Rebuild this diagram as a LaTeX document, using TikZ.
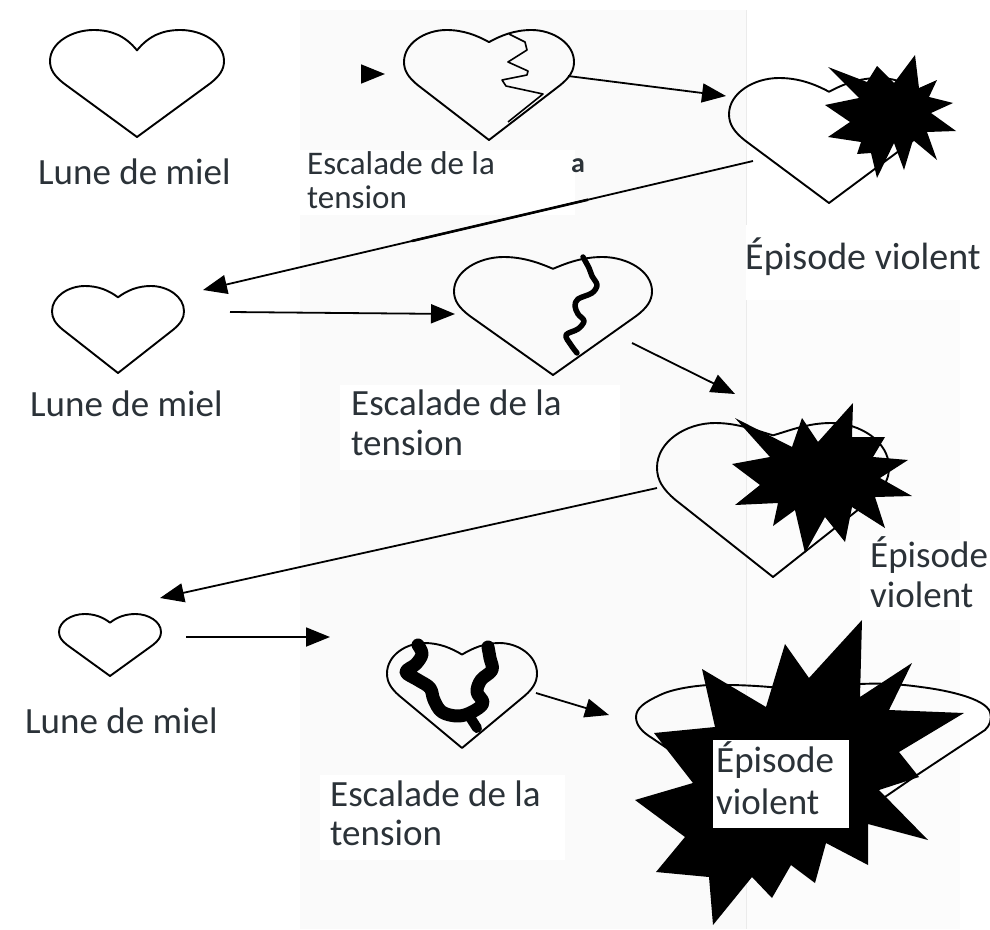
\documentclass[tikz,border=0pt]{standalone}
\usepackage{fontspec}
\setmainfont{Carlito}
\usetikzlibrary{arrows.meta,calc}
\definecolor{ink}{HTML}{2B3238}
\newcommand{\hrt}[5]{% cx, top, halfwidth, height, notch
  \begin{scope}[shift={(#1,#2)},xscale=#3,yscale=#4]
    \draw[heartline] (0,1) -- (-.84,.5) .. controls (-.95,.43) and (-1,.37) .. (-1,.29)
      .. controls (-1,.12) and (-.75,0) .. (-.5,0) .. controls (-.3,0) and (-.14,.05) .. (0,#5)
      .. controls (.14,.05) and (.3,0) .. (.5,0) .. controls (.75,0) and (1,.12) .. (1,.29)
      .. controls (1,.37) and (.95,.43) .. (.84,.5) -- cycle;
  \end{scope}}
\tikzset{
  heartline/.style={line width=1.9pt,black,line join=round},
  crackthin/.style={line width=1.6pt,black,line join=round},
  crackthick/.style={black,line join=round,line cap=round},
  burst/.style={fill=black,draw=none},
  link/.style={line width=1.8pt,black,-{Triangle[length=24pt,width=19pt]}},
  lbig/.style={anchor=base west,inner sep=0pt,text=ink,font=\fontsize{37}{37}\selectfont},
  lsmall/.style={anchor=base west,inner sep=0pt,text=ink,font=\fontsize{33}{33}\selectfont},
  patch/.style={fill=white,draw=none},
}
\begin{document}
\begin{tikzpicture}[x=1pt,y=-1pt]
\useasboundingbox (0,0) rectangle (990,929);
\fill[white] (0,0) rectangle (990,929);
\fill[black!2] (110,10) rectangle (746,929);
\fill[black!1] (746,280) rectangle (960,929);
\draw[black!8,line width=1pt] (746,10) -- (746,929);
\fill[patch] (0,0) rectangle (300,929);
\fill[patch] (300,150) rectangle (575,215);
\fill[patch] (340,385) rectangle (620,470);
\fill[patch] (320,775) rectangle (565,860);
\fill[patch] (746,225) rectangle (990,300);
\fill[patch] (860,540) rectangle (990,620);

% hearts
\hrt{137}{30}{87}{107}{.19}
\hrt{489}{30}{85}{110}{.11}
\hrt{829}{78}{100}{125}{.11}
\hrt{118}{286}{66}{87}{.13}
\hrt{553}{257}{99}{118}{.1}
\hrt{773}{423}{116}{154}{.08}
\hrt{110}{614}{51}{62}{.14}
\hrt{462}{643}{75}{105}{.11}
\draw[heartline] (812,847) -- (917,775) -- (985,730) .. controls (990,725) and (992,720) .. (990,712) .. controls (985,698) and (945,690) .. (921,687) .. controls (900,684) and (880,683) .. (860,684) .. controls (830,685) and (815,690) .. (812,693) .. controls (800,690) and (760,684) .. (709,685) .. controls (690,686) and (670,690) .. (660,695) .. controls (645,702) and (636,708) .. (636,717) .. controls (636,725) and (642,732) .. (652,738) -- cycle;

% cracks
\draw[crackthin] (509,34) -- (525,42) -- (527,50) -- (508,62) -- (528,71) -- (527,75) -- (502,80) -- (506,86) -- (543,94) -- (508,122);
\draw[crackthick,line width=5.5pt] plot[smooth,tension=.55] coordinates {(583,257) (589,268) (592,276) (597,285) (592,293) (578,299) (575,306) (578,314) (584,321) (578,329) (566,335) (571,345) (577,353)};
\draw[crackthick,line width=13pt] plot[smooth,tension=.6] coordinates {(418,645) (422,654) (416,664) (406,672) (418,680) (430,688) (434,700) (442,712) (458,716) (472,712) (483,703) (477,692) (481,680) (492,670) (490,658) (488,647)};
\draw[crackthick,line width=10pt] (468,714) -- (477,728);

% bursts
\fill[burst] (915,55) -- (919,88) -- (937,80) -- (929,97) -- (953,103) -- (931,113) -- (956,131) -- (927,132) -- (937,160) -- (913,140) -- (904,170) -- (894,143) -- (877,178) -- (871,153) -- (857,154) -- (861,142) -- (828,137) -- (850,122) -- (825,105) -- (859,98) -- (828,67) -- (867,82) -- (877,66) -- (894,83) -- cycle;
\fill[burst] (735,418) -- (792,447) -- (802,418) -- (818,442) -- (853,403) -- (852,437) -- (885,437) -- (873,457) -- (908,460) -- (880,478) -- (912,496) -- (875,497) -- (885,528) -- (852,507) -- (845,542) -- (825,517) -- (805,553) -- (795,510) -- (773,526) -- (778,503) -- (735,505) -- (760,485) -- (732,464) -- (770,457) -- cycle;
\fill[burst] (862,620) -- (860,697) -- (912,663) -- (889,710) -- (964,713) -- (899,752) -- (919,777) -- (879,790) -- (928,840) -- (868,824) -- (868,865) -- (826,843) -- (815,883) -- (791,865) -- (772,898) -- (752,877) -- (713,925) -- (709,877) -- (656,872) -- (685,837) -- (635,800) -- (693,783) -- (654,733) -- (715,727) -- (702,669) -- (766,707) -- (785,644) -- (809,678) -- cycle;
\fill[patch] (713,740) rectangle (849,828);

% connector ends
\coordinate (a1s) at (362,74);
\coordinate (a1e) at (385,74);
\coordinate (a2s) at (568,76);
\coordinate (a2e) at (726,96);
\coordinate (a3s) at (753,161);
\coordinate (a3e) at (203,290);
\coordinate (a4s) at (230,312);
\coordinate (a4e) at (455,314);
\coordinate (a5s) at (632,343);
\coordinate (a5e) at (735,394);
\coordinate (a6s) at (657,488);
\coordinate (a6e) at (160,598);
\coordinate (a7s) at (186,637);
\coordinate (a7e) at (330,637);
\coordinate (a8s) at (536,693);
\coordinate (a8e) at (609,715);
\draw[link] (a1s) -- (a1e);
\draw[link] (a2s) -- (a2e);
\draw[link] (a3s) -- (a3e);
\draw[line width=2.6pt,black] ($(a3s)!.3!(a3e)$) -- ($(a3s)!.62!(a3e)$);
\draw[link] (a4s) -- (a4e);
\draw[link] (a5s) -- (a5e);
\draw[link] (a6s) -- (a6e);
\draw[link] (a7s) -- (a7e);
\draw[link] (a8s) -- (a8e);

% labels
\node[lbig] (m1) at (38,184) {Lune de miel};
\node[lbig] (m2) at (30,416) {Lune de miel};
\node[lbig] (m3) at (25,733) {Lune de miel};
\node[lsmall] (t1a) at (307,174) {Escalade de la};
\node[lsmall] (t1b) at (307,208) {tension};
\node[lsmall,font=\fontsize{28}{28}\selectfont\bfseries] (t1c) at (571,172) {a};
\node[lbig] (t2a) at (351,415) {Escalade de la};
\node[lbig] (t2b) at (351,455) {tension};
\node[lbig] (t3a) at (330,806) {Escalade de la};
\node[lbig] (t3b) at (330,845) {tension};
\node[lbig,font=\fontsize{38}{38}\selectfont] (e1) at (745,269) {Épisode violent};
\node[lbig] (e2a) at (870,567) {Épisode};
\node[lbig] (e2b) at (870,607) {violent};
\node[lbig] (e3a) at (716,772) {Épisode};
\node[lbig] (e3b) at (716,814) {violent};
\end{tikzpicture}
\end{document}
